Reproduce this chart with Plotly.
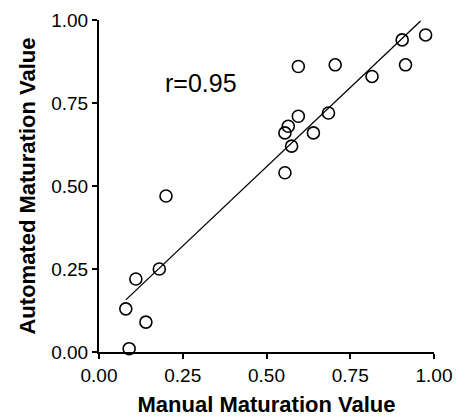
import plotly.graph_objects as go

manual = [0.08, 0.09, 0.11, 0.14, 0.18, 0.20, 0.555, 0.555, 0.565, 0.575, 0.595, 0.595,
          0.64, 0.685, 0.705, 0.815, 0.905, 0.915, 0.975]
automated = [0.13, 0.01, 0.22, 0.09, 0.25, 0.47, 0.54, 0.66, 0.68, 0.62, 0.71, 0.86,
             0.66, 0.72, 0.865, 0.83, 0.94, 0.865, 0.955]
fit_x = [0.08, 0.96]
fit_y = [0.157, 0.997]
tick_vals = [0.0, 0.25, 0.5, 0.75, 1.0]
tick_text = ["0.00", "0.25", "0.50", "0.75", "1.00"]

fig = go.Figure()
fig.add_trace(go.Scatter(x=fit_x, y=fit_y, mode="lines",
                         line=dict(color="black", width=1.3), showlegend=False))
fig.add_trace(go.Scatter(x=manual, y=automated, mode="markers",
                         marker=dict(symbol="circle-open", size=12, color="black",
                                     line=dict(width=1.6, color="black")),
                         cliponaxis=False, showlegend=False))
fig.add_annotation(x=0.19, y=0.81, xref="x", yref="y", text="r=0.95", showarrow=False,
                   xanchor="left", yanchor="middle",
                   font=dict(family="Liberation Sans, Arial", size=25, color="black"))

axis_common = dict(range=[0, 1], tickvals=tick_vals, ticktext=tick_text,
                   showgrid=False, zeroline=False, showline=True, linecolor="black",
                   linewidth=2, ticks="outside", ticklen=5, tickwidth=1.5, tickcolor="black",
                   tickfont=dict(family="Liberation Sans, Arial", size=19, color="black"),
                   automargin=False)

fig.update_layout(
    width=456, height=417,
    margin=dict(l=99, r=22, t=20, b=65),
    paper_bgcolor="white", plot_bgcolor="white",
    xaxis=dict(**axis_common,
               title=dict(text="<b>Manual Maturation Value</b>", standoff=14,
                          font=dict(family="Liberation Sans, Arial", size=22, color="black"))),
    yaxis=dict(**axis_common,
               title=dict(text="<b>Automated Maturation Value</b>", standoff=10,
                          font=dict(family="Liberation Sans, Arial", size=22, color="black"))),
)

fig.write_html("out.html")
